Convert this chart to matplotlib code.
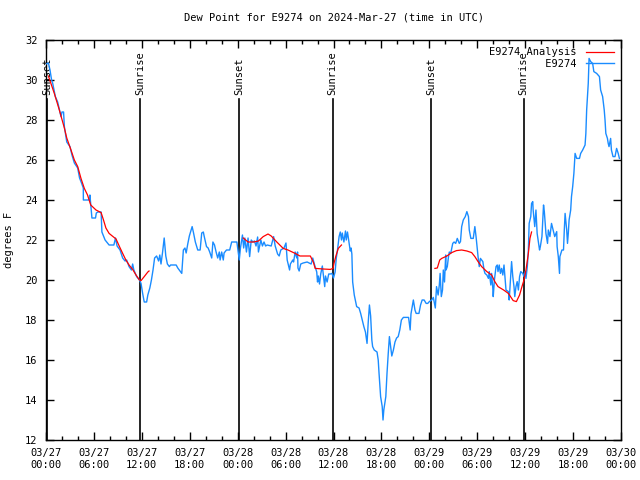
import numpy as np
import matplotlib
matplotlib.use("Agg")
import matplotlib.pyplot as plt

# ---------------- data (hours since 2024-03-27 00:00 UTC) ----------------
station = "E9274"
title = "Dew Point for E9274 on 2024-Mar-27 (time in UTC)"

obs_hours = [
    0.0, 0.3, 0.5, 0.7, 0.83, 1.17, 1.46, 1.75, 1.88, 2.0, 2.2, 2.3, 2.6, 3.0, 3.25,
    3.55, 3.97, 4.2, 4.4, 4.67, 4.68, 5.0, 5.4, 5.5, 5.75, 6.2, 6.3, 6.5, 6.9, 7.0,
    7.2, 7.4, 7.7, 7.9, 8.5, 8.7, 8.9, 9.27, 9.6, 9.9, 10.1, 10.4, 10.7, 10.85, 11.0,
    11.35, 11.7, 11.9, 12.1, 12.3, 12.6, 12.75, 13.0, 13.2, 13.4, 13.6, 13.85, 14.1,
    14.25, 14.4, 14.6, 14.8, 15.0, 15.2, 15.45, 15.6, 16.3, 16.5, 17.0, 17.2, 17.4,
    17.55, 17.75, 17.95, 18.3, 18.45, 18.7, 19.0, 19.3, 19.5, 19.7, 19.8, 20.1, 20.3,
    20.5, 20.75, 20.9, 21.1, 21.3, 21.5, 21.7, 21.8, 22.0, 22.2, 22.3, 22.6, 23.0,
    23.25, 23.9, 24.0, 24.2, 24.35, 24.6, 24.75, 24.9, 25.1, 25.3, 25.5, 25.7, 25.9,
    26.1, 26.3, 26.5, 26.6, 26.9, 27.1, 27.3, 27.5, 27.7, 28.2, 28.5, 28.7, 29.0,
    29.2, 29.4, 29.8, 30.05, 30.2, 30.5, 30.6, 30.9, 31.0, 31.2, 31.4, 31.5, 31.55,
    31.7, 31.9, 32.2, 32.7, 33.2, 33.4, 33.6, 33.9, 34.0, 34.1, 34.25, 34.4, 34.6,
    34.75, 34.9, 35.0, 35.2, 35.4, 35.6, 35.8, 36.0, 36.2, 36.35, 36.5, 36.7, 36.85,
    37.0, 37.1, 37.3, 37.5, 37.6, 37.75, 37.9, 38.1, 38.2, 38.3, 38.4, 38.6, 38.9,
    39.2, 39.4, 39.6, 39.8, 40.0, 40.2, 40.35, 40.5, 40.65, 40.8, 40.9, 41.1, 41.45,
    41.6, 41.7, 41.9, 42.1, 42.2, 42.3, 42.55, 42.7, 42.85, 43.0, 43.15, 43.3, 43.5,
    43.7, 43.9, 44.1, 44.3, 44.5, 44.75, 45.4, 45.6, 45.7, 46.0, 46.2, 46.35, 46.7,
    46.9, 47.1, 47.35, 47.6, 47.8, 48.0, 48.3, 48.5, 48.75, 48.9, 49.1, 49.25, 49.35,
    49.5, 49.65, 49.75, 49.9, 50.05, 50.09, 50.25, 50.4, 50.5, 50.68, 50.93, 51.1,
    51.3, 51.5, 51.75, 51.9, 52.05, 52.25, 52.5, 52.7, 52.9, 53.0, 53.2, 53.5, 53.7,
    53.85, 54.0, 54.1, 54.25, 54.4, 54.7, 54.85, 54.97, 55.2, 55.4, 55.5, 55.7, 55.8,
    55.95, 56.0, 56.15, 56.35, 56.5, 56.6, 56.75, 56.9, 57.05, 57.2, 57.35, 57.5,
    57.6, 57.9, 58.0, 58.2, 58.3, 58.45, 58.6, 58.7, 58.85, 59.0, 59.15, 59.3, 59.45,
    59.7, 59.85, 60.0, 60.1, 60.27, 60.4, 60.5, 60.7, 60.8, 60.95, 61.0, 61.2, 61.35,
    61.5, 61.65, 61.8, 61.9, 62.1, 62.3, 62.4, 62.6, 62.8, 62.9, 63.1, 63.3, 63.5,
    63.7, 63.95, 64.0, 64.15, 64.3, 64.35, 64.6, 64.8, 64.9, 65.0, 65.2, 65.3, 65.4,
    65.5, 65.7, 65.8, 65.95, 66.1, 66.25, 66.45, 66.8, 66.95, 67.2, 67.5, 67.6, 67.7,
    67.9, 68.0, 68.2, 68.45, 68.6, 68.95, 69.3, 69.45, 69.7, 69.9, 70.0, 70.1, 70.3,
    70.4, 70.5, 70.7, 70.8, 71.0, 71.25, 71.45, 71.65, 71.8,
]
obs_dewpt = [
    30.8, 30.85, 30.5, 30.0, 29.85, 29.17, 28.9, 28.4, 28.17, 28.4, 28.4, 27.67, 26.9, 26.67, 26.25,
    25.85, 25.6, 25.1, 24.9, 24.6, 24.0, 24.0, 24.0, 24.25, 23.1, 23.1, 23.35, 23.4, 23.4, 22.4,
    22.2, 22.0, 21.85, 21.75, 21.75, 22.1, 21.7, 21.5, 21.1, 20.95, 21.0, 20.67, 20.5, 20.8, 20.5,
    20.17, 20.0, 19.83, 19.33, 18.9, 18.9, 19.25, 19.6, 20.0, 20.5, 21.1, 21.2, 20.95,
    21.25, 20.8, 21.4, 22.1, 21.2, 20.8, 20.67, 20.75, 20.75, 20.6, 20.33, 21.5, 21.6,
    21.35, 21.8, 22.2, 22.67, 22.4, 21.9, 21.5, 21.5, 22.35, 22.4, 22.2, 21.67, 21.6,
    21.4, 21.1, 21.9, 21.75, 21.4, 21.1, 21.4, 21.0, 21.4, 21.0, 21.35, 21.5, 21.5,
    21.9, 21.9, 21.6, 21.0, 21.6, 22.25, 21.6, 22.1, 21.4, 22.1, 21.17, 22.0, 21.9,
    21.95, 21.7, 22.15, 21.4, 22.0, 21.7, 21.9, 21.7, 21.75, 21.7, 22.17, 21.7, 21.3,
    21.2, 21.5, 21.6, 21.85, 21.0, 20.5, 20.8, 21.0, 20.9, 21.4, 21.1, 21.4, 20.6,
    20.45, 20.8, 20.85, 20.9, 20.8, 21.1, 20.8, 20.4, 19.9, 20.2, 19.8, 20.3, 20.7,
    20.2, 19.67, 20.2, 19.9, 20.3, 20.3, 20.33, 20.1, 20.4, 21.1, 21.5, 22.17, 22.4,
    22.0, 22.35, 21.9, 22.45, 22.0, 22.4, 22.0, 21.45, 21.6, 21.3, 19.9, 19.25, 18.67,
    18.6, 18.33, 18.0, 17.67, 17.4, 16.83, 17.9, 18.75, 18.2, 17.0, 16.67, 16.5, 16.4,
    16.0, 15.35, 14.17, 13.67, 13.0, 13.5, 14.17, 15.33, 16.3, 17.17, 16.67, 16.2, 16.5,
    16.9, 17.1, 17.17, 17.5, 18.0, 18.13, 18.13, 17.5, 18.3, 19.0, 18.5, 18.33, 18.33,
    18.75, 19.0, 19.0, 18.83, 18.83, 18.92, 19.0, 19.13, 18.6, 19.67, 19.25, 19.75, 20.33,
    19.17, 19.5, 20.5, 19.9, 21.25, 20.5, 20.67, 21.17, 21.4, 21.33, 21.83, 21.9,
    21.83, 22.08, 21.83, 21.92, 22.67, 23.0, 23.17, 23.42, 23.17, 22.5, 22.08, 22.08, 22.67,
    22.17, 21.58, 21.17, 20.67, 21.08, 20.92, 20.5, 20.33, 20.25, 20.08, 20.42, 19.75, 20.33,
    19.58, 19.17, 20.0, 20.67, 20.75, 20.42, 20.75, 20.33, 20.58, 20.25, 20.75, 20.0,
    19.5, 19.42, 19.0, 20.33, 20.92, 20.17, 19.67, 19.17, 19.67, 19.92, 19.5, 20.17, 20.42,
    20.33, 20.17, 20.42, 20.08, 20.67, 21.5, 22.83, 23.17, 23.83, 23.92, 23.5, 22.67, 23.5,
    22.33, 21.92, 21.5, 21.67, 22.17, 23.75, 23.42, 22.33, 21.83, 22.5, 22.17, 22.83, 22.5,
    22.17, 22.42, 21.67, 21.17, 20.33, 21.17, 21.5, 21.5, 22.5, 23.33, 22.5, 21.83, 22.33,
    23.0, 23.5, 24.17, 24.67, 25.33, 26.33, 26.08, 26.08, 26.33, 26.5, 26.75, 27.33, 28.5,
    29.83, 31.08, 30.92, 30.83, 30.42, 30.33, 30.17, 29.5, 29.17, 28.5, 28.0, 27.33, 27.08,
    26.83, 26.67, 27.08, 26.5, 26.17, 26.17, 26.58, 26.33, 26.08,
]

# analysis curve, three night-time pieces (NaN = gap)
ana_hours = [
    0.3, 1.04, 1.67, 2.3, 2.6, 3.13, 3.55, 3.97, 4.38, 4.8, 5.2, 5.6, 6.26, 6.9, 7.2,
    7.5, 7.9, 8.3, 8.77, 9.2, 9.6, 10.0, 10.4, 10.85, 11.27, 11.7, 11.9, 12.3, 12.75, 12.9,
    18.0,
    24.7, 25.3, 26.0, 26.6, 27.2, 27.8, 28.2, 28.9, 29.7, 30.3, 31.2, 31.8, 33.1, 33.5,
    33.7, 34.7, 35.6, 35.95, 36.06, 36.3, 36.6, 37.0,
    42.0,
    48.7, 49.0, 49.3, 49.55, 50.2, 50.8, 51.4, 52.05, 52.7, 53.3, 53.7, 54.1, 54.55,
    55.2, 55.8, 56.2, 56.6, 57.3, 57.9, 58.5, 58.9, 59.3, 59.6, 59.85, 60.1, 60.4, 60.6, 60.8,
]
ana_dewpt = [
    30.2, 29.33, 28.5, 27.6, 27.1, 26.5, 26.0, 25.67, 25.08, 24.58, 24.25, 23.75, 23.5, 23.37, 23.0,
    22.6, 22.33, 22.2, 22.05, 21.67, 21.33, 21.0, 20.75, 20.53, 20.25, 20.0, 19.97, 20.17, 20.4, 20.45,
    np.nan,
    22.1, 21.9, 21.9, 21.95, 22.17, 22.3, 22.2, 21.9, 21.58, 21.5, 21.33, 21.2, 21.2, 20.87,
    20.58, 20.55, 20.53, 20.58, 20.83, 21.2, 21.58, 21.75,
    np.nan,
    20.58, 20.6, 21.0, 21.08, 21.2, 21.37, 21.47, 21.5, 21.45, 21.37, 21.17, 20.92, 20.67,
    20.42, 20.25, 19.92, 19.67, 19.5, 19.33, 18.97, 18.92, 19.25, 19.67, 20.0, 20.5, 21.33, 22.08, 22.4,
]

sun_hours = [0.1, 11.77, 24.15, 35.9, 48.2, 59.8]
sun_labels = ["Sunset", "Sunrise", "Sunset", "Sunrise", "Sunset", "Sunrise"]

tick_hours = list(range(0, 73, 6))
tick_labels = ["03/27\n00:00", "03/27\n06:00", "03/27\n12:00", "03/27\n18:00",
               "03/28\n00:00", "03/28\n06:00", "03/28\n12:00", "03/28\n18:00",
               "03/29\n00:00", "03/29\n06:00", "03/29\n12:00", "03/29\n18:00",
               "03/30\n00:00"]

# ---------------- plot ----------------
plt.rcParams['font.family'] = ['DejaVu Sans Mono']
plt.rcParams['font.size'] = 7.5

fig = plt.figure(figsize=(6.4, 4.8), dpi=100)
ax = fig.add_axes([46 / 640, 40 / 480, 575 / 640, 400 / 480])

# sunrise / sunset markers
for h, lab in zip(sun_hours, sun_labels):
    ax.plot([h, h], [12, 29.05], color='black', lw=1.2, zorder=2)
    ax.text(h, 29.25, lab, rotation=90, ha='center', va='bottom', fontsize=7.5, zorder=3)

ax.plot(ana_hours, ana_dewpt, color='#ff0000', lw=0.9, label=station + " Analysis", zorder=4)
ax.plot(obs_hours, obs_dewpt, color='#1a8cff', lw=1.0, label=station, zorder=3)

ax.set_xlim(0, 72)
ax.set_ylim(12, 32)
ax.set_xticks(tick_hours)
ax.set_xticklabels(tick_labels)
ax.set_xticks(np.arange(0, 73, 2), minor=True)
ax.set_yticks(np.arange(12, 33, 2))

ax.tick_params(which='both', direction='in', top=True, right=True, colors='black')
ax.tick_params(which='major', length=6, width=1, pad=6)
ax.tick_params(which='minor', length=3, width=1)
for s in ax.spines.values():
    s.set_linewidth(1.0)

ax.set_ylabel("degrees F", labelpad=8)
ax.set_title(title, fontsize=7.5, pad=14)

# monospace font: pad labels so they line up on the right like gnuplot
handles, labels = ax.get_legend_handles_labels()
width = max(len(l) for l in labels)
labels = [l.rjust(width) for l in labels]
ax.legend(handles, labels, loc='upper right', frameon=False, markerfirst=False,
          handlelength=2.7, handletextpad=0.9, borderaxespad=0.3,
          labelspacing=0.15, fontsize=7.5)

fig.savefig("out.png", dpi=100)
